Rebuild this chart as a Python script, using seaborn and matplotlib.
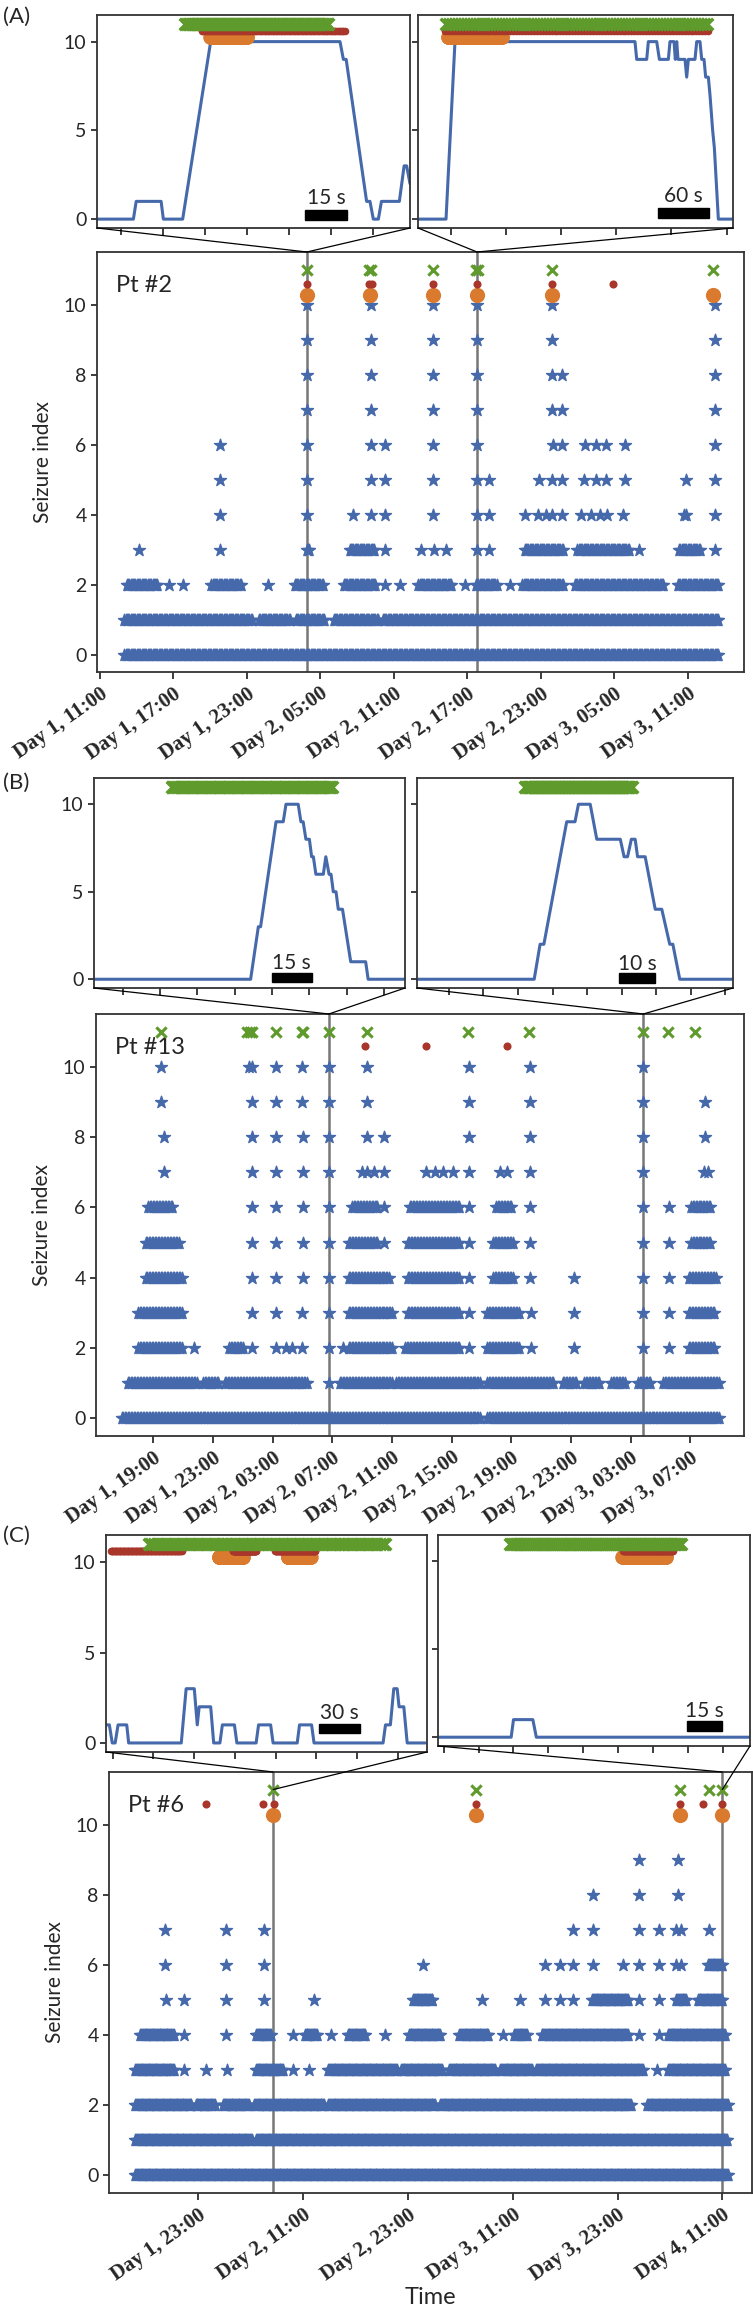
import numpy as np
import pandas as pd
import matplotlib.pyplot as plt
import seaborn as sns
from matplotlib.patches import Rectangle, ConnectionPatch

sns.set_theme(style="ticks")
plt.rcParams["font.family"] = ["Lato", "DejaVu Sans"]
plt.rcParams["axes.edgecolor"] = "#333333"
plt.rcParams["axes.linewidth"] = 1.3
plt.rcParams["xtick.major.size"] = 5
plt.rcParams["ytick.major.size"] = 4
plt.rcParams["xtick.labelsize"] = 14
plt.rcParams["ytick.labelsize"] = 14

BLUE = "#4569aa"
GREEN = "#5e9a2c"
RED = "#a8362b"
ORANGE = "#d97a2e"
VLINE = "#777777"

W, H = 753, 2308

# ------------------ PANEL A (times in hours from Day 1, 00:00) ------------------
A_ticks = [11, 17, 23, 29, 35, 41, 47, 53, 59]
A_ticklabels = ["Day 1, 11:00", "Day 1, 17:00", "Day 1, 23:00", "Day 2, 05:00", "Day 2, 11:00",
                "Day 2, 17:00", "Day 2, 23:00", "Day 3, 05:00", "Day 3, 11:00"]
A_bands = [
    (0, 13.0, 61.5),
    (1, 13.0, 23.4), (1, 24.0, 26.5), (1, 27.0, 29.3), (1, 30.1, 33.7), (1, 34.1, 61.5),
    (2, 13.2, 15.7), (2, 20.1, 22.5), (2, 26.9, 29.2), (2, 30.9, 33.5), (2, 37.0, 39.7),
    (2, 41.7, 43.4), (2, 45.5, 48.8), (2, 49.8, 57.0), (2, 58.2, 61.5),
    (3, 27.9, 28.1), (3, 31.4, 33.4), (3, 45.7, 48.8), (3, 50.0, 54.2), (3, 58.3, 60.0),
]
A_dots = [
    (2, [16.6, 17.8, 24.7, 34.3, 35.5, 40.8, 44.5]),
    (3, [14.2, 20.8, 34.3, 37.2, 38.3, 39.3, 41.8, 42.8, 55.0, 61.2]),
    (4, [20.8, 27.9, 31.7, 33.15, 34.3, 38.2, 41.8, 42.8, 45.7, 46.8, 47.4, 47.9, 48.75,
         50.3, 51.1, 51.8, 52.4, 53.7, 58.7, 58.9, 61.2]),
    (5, [20.8, 27.9, 33.15, 34.3, 38.2, 41.8, 42.8, 46.85, 47.9, 48.75, 50.5, 51.5, 52.3,
         53.9, 58.9, 61.2]),
    (6, [20.8, 27.9, 33.15, 34.3, 38.2, 41.8, 48.0, 48.75, 50.6, 51.5, 52.3, 53.9, 61.2]),
    (7, [27.9, 33.15, 38.2, 41.8, 47.9, 48.75, 61.2]),
    (8, [27.9, 33.15, 38.2, 41.8, 47.9, 48.75, 61.2]),
    (9, [27.9, 33.15, 38.2, 41.8, 47.9, 61.2]),
    (10, [27.9, 33.15, 38.2, 41.8, 47.9, 61.2]),
]
A_green = [27.9, 32.95, 33.1, 38.2, 41.75, 41.85, 47.9, 61.1]
A_red = [27.9, 33.0, 33.2, 38.2, 41.8, 47.9, 52.9]
A_orange = [27.9, 33.05, 38.2, 41.8, 47.9, 61.1]
A_vlines = [27.9, 41.8]

# inset A1 / A2 (seconds)
A1_t = [-8.6, 4.4, 5.4, 14.3, 15.1, 22.0, 32.0, 78.2, 79.4, 80.4, 87.7, 88.9, 90.1, 91.9,
        93.0, 99.4, 101.1, 102.0, 103.2]
A1_y = [0, 0, 1, 1, 0, 0, 10, 10, 9, 9, 1, 1, 0, 0, 1, 1, 3, 3, 2]
A1_green = [(23.0, 74.0)]
A1_red = [(28.8, 80.0)]
A1_orange = [(31.8, 45.0)]

A2_t = [0.4, 32.5, 42.9, 251.7, 253.7, 265.3, 267.2, 276.9, 280.0, 290.4, 292.3, 297.0,
        298.5, 300.1, 301.6, 309.7, 311.7, 313.6, 321.3, 323.3, 327.1, 329.1, 331.8, 333.7,
        336.8, 338.7, 341.8, 343.8, 348.4, 365.8]
A2_y = [0, 0, 10, 10, 9, 9, 10, 10, 9, 9, 10, 10, 9, 10, 9, 9, 8, 9, 9, 10, 10, 9, 9, 8,
        8, 7, 5, 4, 0, 0]
A2_green = [(33.0, 335.0)]
A2_red = [(31.5, 336.7)]
A2_orange = [(34.5, 97.8)]

# ------------------ PANEL B ------------------
B_ticks = [19, 23, 27, 31, 35, 39, 43, 47, 51, 55]
B_ticklabels = ["Day 1, 19:00", "Day 1, 23:00", "Day 2, 03:00", "Day 2, 07:00", "Day 2, 11:00",
                "Day 2, 15:00", "Day 2, 19:00", "Day 2, 23:00", "Day 3, 03:00", "Day 3, 07:00"]
B_bands = [
    (0, 16.9, 40.9), (0, 41.4, 56.9),
    (1, 17.3, 21.9), (1, 22.35, 23.4), (1, 23.8, 29.3), (1, 31.5, 35.0), (1, 35.3, 40.9),
    (1, 41.4, 45.8), (1, 46.45, 47.4), (1, 47.9, 48.9), (1, 49.7, 50.6), (1, 51.5, 52.3),
    (1, 53.2, 56.9),
    (2, 18.0, 20.95), (2, 24.1, 25.0), (2, 32.1, 35.0), (2, 35.9, 39.5), (2, 41.4, 43.5),
    (2, 54.9, 56.56),
    (3, 18.0, 20.95), (3, 32.1, 35.0), (3, 36.07, 39.5), (3, 41.4, 43.5), (3, 54.9, 56.56),
    (4, 18.5, 20.95), (4, 32.1, 34.77), (4, 36.07, 39.5), (4, 41.8, 43.07), (4, 54.9, 56.7),
    (5, 18.5, 20.7), (5, 32.1, 34.0), (5, 36.07, 39.5), (5, 41.8, 43.07), (5, 55.05, 56.4),
    (6, 18.67, 20.3), (6, 32.33, 34.0), (6, 36.2, 39.5), (6, 42.0, 43.0), (6, 55.05, 56.4),
]
B_dots = [
    (1, [30.77]),
    (2, [21.76, 25.6, 27.2, 27.9, 28.27, 28.98, 30.77, 31.7, 40.14, 44.3, 47.2, 51.85, 53.55]),
    (3, [25.6, 27.2, 28.98, 30.77, 40.14, 44.3, 47.2, 51.85, 53.55]),
    (4, [25.6, 27.2, 29.05, 30.77, 40.14, 44.27, 47.2, 51.85, 53.55]),
    (5, [25.6, 27.2, 29.05, 30.77, 34.45, 40.14, 44.27, 51.85, 53.55]),
    (6, [25.6, 27.2, 29.05, 30.77, 34.45, 40.14, 44.27, 51.85, 53.55]),
    (7, [19.7, 25.6, 27.2, 29.05, 30.77, 33.0, 33.3, 33.8, 34.45, 37.3, 37.9, 38.4, 39.1,
         40.14, 42.25, 42.7, 44.27, 51.85, 55.9, 56.2]),
    (8, [19.7, 25.6, 27.2, 29.05, 30.77, 33.3, 34.45, 40.14, 44.27, 51.85, 56.0]),
    (9, [19.55, 25.6, 27.2, 28.98, 30.77, 33.3, 40.14, 44.27, 51.85, 56.0]),
    (10, [19.55, 25.4, 25.6, 27.2, 28.98, 30.77, 33.3, 40.14, 44.27, 51.85]),
]
B_green = [19.55, 25.3, 25.5, 25.65, 27.2, 28.95, 29.05, 30.77, 33.3, 40.1, 44.2, 51.85, 53.5, 55.3]
B_red = [33.2, 37.3, 42.7]
B_orange = []
B_vlines = [30.77, 51.85]

B1_t = [-11.4, 51.4, 54.5, 55.4, 61.6, 64.5, 65.6, 70.5, 71.6, 72.5, 73.6, 75.0, 75.9, 76.6,
        77.6, 80.6, 81.6, 82.9, 83.7, 84.6, 85.7, 86.6, 88.3, 91.6, 97.6, 98.6, 113.1]
B1_y = [0, 0, 3, 3, 9, 9, 10, 10, 9, 9, 8, 8, 7, 7, 6, 6, 7, 6, 6, 5, 5, 4, 4, 1, 1, 0, 0]
B1_green = [(19.7, 84.2)]

B2_t = [-9.2, 24.7, 26.4, 27.5, 34.1, 36.5, 37.5, 40.9, 42.8, 49.6, 50.7, 51.7, 52.8, 53.9,
        54.6, 56.8, 59.7, 61.6, 63.9, 64.8, 66.8, 82.2]
B2_y = [0, 0, 2, 2, 9, 9, 10, 10, 8, 8, 7, 7, 8, 8, 7, 7, 4, 4, 2, 2, 0, 0]
B2_green = [(22.1, 52.9)]

# ------------------ PANEL C ------------------
C_ticks = [23, 35, 47, 59, 71, 83]
C_ticklabels = ["Day 1, 23:00", "Day 2, 11:00", "Day 2, 23:00", "Day 3, 11:00", "Day 3, 23:00",
                "Day 4, 11:00"]
C_bands = [
    (0, 15.8, 83.56),
    (1, 15.8, 29.1), (1, 29.64, 83.56),
    (2, 15.8, 22.2), (2, 22.7, 24.9), (2, 25.8, 28.8), (2, 29.4, 37.4), (2, 37.9, 50.1),
    (2, 50.7, 72.5), (2, 74.4, 83.56),
    (3, 15.8, 20.2), (3, 29.6, 32.7), (3, 37.9, 45.7), (3, 46.2, 50.9), (3, 51.76, 57.0),
    (3, 57.6, 61.2), (3, 61.7, 73.9), (3, 76.8, 83.3),
    (4, 16.36, 20.2), (4, 29.6, 31.3), (4, 35.2, 36.6), (4, 40.1, 42.1), (4, 47.1, 50.7),
    (4, 52.9, 56.2), (4, 59.2, 60.6), (4, 62.3, 72.2), (4, 76.8, 83.3),
    (5, 47.6, 49.8), (5, 68.1, 72.2), (5, 77.75, 78.85), (5, 80.2, 83.0),
    (6, 81.4, 83.0),
]
C_dots = [
    (3, [21.34, 23.83, 26.3, 33.8, 35.7, 75.5]),
    (4, [21.34, 26.2, 33.8, 38.2, 44.4, 57.85, 73.5, 75.7]),
    (5, [19.3, 21.34, 26.15, 30.47, 36.3, 55.5, 59.8, 62.7, 64.37, 65.86, 73.5, 75.7]),
    (6, [19.13, 26.15, 30.47, 48.7, 62.7, 64.37, 65.86, 68.24, 71.67, 73.5, 75.7, 77.75, 78.3]),
    (7, [19.13, 26.15, 30.47, 65.86, 68.24, 73.5, 75.7, 77.75, 78.3, 81.5]),
    (8, [68.24, 73.5, 77.9]),
    (9, [73.5, 77.9]),
]
C_green = [31.57, 54.8, 78.1, 81.5, 83.0]
C_red = [23.9, 30.4, 31.7, 54.8, 78.1, 80.75, 83.0]
C_orange = [31.57, 54.8, 78.1, 83.0]
C_vlines = [31.57, 83.0]

C1_t = [-4.66, -2.52, -0.39, 1.75, 3.89, 10.3, 11.7, 50.5, 54.1, 60.1, 62.3, 63.7, 72.2, 74.4,
        79.0, 80.8, 89.7, 91.5, 105.7, 107.5, 116.4, 118.2, 136.0, 137.7, 146.6, 148.4, 199.3,
        201.1, 204.7, 207.2, 209.7, 211.1, 214.6, 217.1, 230.3]
C1_y = [1, 1, 0, 0, 1, 1, 0, 0, 3, 3, 1, 2, 2, 0, 0, 1, 1, 0, 0, 1, 1, 0, 0, 1, 1, 0, 0,
        1, 1, 3, 3, 2, 2, 0, 0]
C1_green = [(26.5, 201.0)]
C1_red = [(-1.4, 50.8), (88.7, 105.6), (119.7, 149.4)]
C1_orange = [(78.1, 96.0), (129.0, 145.8)]

C2_t = [-2.4, 29.0, 30.0, 38.3, 39.8, 131.5]
C2_y = [0, 0, 1, 1, 0, 0]
C2_green = [(28.4, 102.0)]
C2_red = [(77.1, 98.4)]
C2_orange = [(76.6, 95.6)]


def box(x0, y0, x1, y1):
    return [x0 / W, 1 - y1 / H, (x1 - x0) / W, (y1 - y0) / H]


def stars_frame(bands, dots, step=0.1):
    times, levels = [], []
    for level, start, end in bands:
        pts = np.arange(start, end + step / 2, step)
        times += list(pts)
        levels += [level] * len(pts)
    for level, pts in dots:
        times += list(pts)
        levels += [level] * len(pts)
    return pd.DataFrame({"time": times, "index": levels})


def main_panel(ax, bands, dots, green, red, orange, vlines, xlim, ticks, labels, name):
    for v in vlines:
        ax.axvline(v, color=VLINE, lw=1.8, zorder=1)
    df = stars_frame(bands, dots)
    sns.scatterplot(data=df, x="time", y="index", ax=ax, marker="*", s=82, color=BLUE,
                    edgecolor=BLUE, linewidth=1.0, legend=False, zorder=2)
    if orange:
        sns.scatterplot(x=orange, y=[10.28] * len(orange), ax=ax, s=120, color=ORANGE,
                        linewidth=0, zorder=3)
    sns.scatterplot(x=red, y=[10.6] * len(red), ax=ax, s=34, color=RED, linewidth=0, zorder=4)
    sns.scatterplot(x=green, y=[11.0] * len(green), ax=ax, marker="x", s=55, color=GREEN,
                    linewidth=2.2, zorder=4)
    ax.set_xlim(*xlim)
    ax.set_ylim(-0.5, 11.5)
    ax.set_xticks(ticks)
    ax.set_xticklabels(labels, rotation=35, ha="right", rotation_mode="anchor",
                       fontfamily="Liberation Serif", fontweight="bold", fontsize=15)
    ax.set_yticks(range(0, 11, 2))
    ax.set_ylabel("Seizure index", fontsize=15, labelpad=8)
    ax.set_xlabel("")
    ax.text(0.03, 0.92, name, transform=ax.transAxes, fontsize=17, va="center")


def band(ax, spans, y, marker, s, color, lw):
    for a, b in spans:
        xs = np.linspace(a, b, 90)
        sns.scatterplot(x=xs, y=np.full(len(xs), y), ax=ax, marker=marker, s=s, color=color,
                        linewidth=lw, zorder=4)


def inset_panel(ax, t, y, xlim, xticks, green, red, orange, bar, bar_y, bar_label, label_y,
                ylabels):
    sns.lineplot(x=t, y=y, ax=ax, sort=False, estimator=None, color=BLUE, lw=2.2)
    band(ax, orange, 10.27, "o", 110, ORANGE, 0)
    band(ax, red, 10.6, "o", 30, RED, 0)
    band(ax, green, 11.0, "x", 70, GREEN, 2.5)
    ax.add_patch(Rectangle((bar[0], bar_y[0]), bar[1] - bar[0], bar_y[1] - bar_y[0],
                           color="black", zorder=5))
    ax.text((bar[0] + bar[1]) / 2, label_y, bar_label, ha="center", va="center", fontsize=15)
    ax.set_xlim(*xlim)
    ax.set_ylim(-0.5, 11.5)
    ax.set_xticks(xticks)
    ax.set_xticklabels([])
    ax.set_yticks([0, 5, 10])
    if not ylabels:
        ax.set_yticklabels([])
    ax.set_xlabel("")
    ax.set_ylabel("")


def connect(fig, inset, corner, main, point):
    con = ConnectionPatch(xyA=corner, coordsA=inset.transAxes, xyB=point,
                          coordsB=main.transData, color="black", lw=0.9)
    fig.add_artist(con)


fig = plt.figure(figsize=(W / 100, H / 100), dpi=100)

# ------------------ A ------------------
axA1 = fig.add_axes(box(97, 15, 410, 228))
axA2 = fig.add_axes(box(418, 15, 733, 228))
axA = fig.add_axes(box(97, 252, 744, 672))
inset_panel(axA1, A1_t, A1_y, (-8.6, 103.2), np.arange(0, 91, 15), A1_green, A1_red, A1_orange,
            (65.7, 80.7), (-0.06, 0.49), "15 s", 1.2, True)
inset_panel(axA2, A2_t, A2_y, (0, 365.4), [38, 102, 166, 230, 294, 358], A2_green, A2_red,
            A2_orange, (278, 338), (0.06, 0.6), "60 s", 1.31, False)
main_panel(axA, A_bands, A_dots, A_green, A_red, A_orange, A_vlines, (10.76, 63.6), A_ticks,
           A_ticklabels, "Pt #2")
connect(fig, axA1, (0, 0), axA, (A_vlines[0], 11.5))
connect(fig, axA1, (1, 0), axA, (A_vlines[0], 11.5))
connect(fig, axA2, (0, 0), axA, (A_vlines[1], 11.5))
connect(fig, axA2, (1, 0), axA, (A_vlines[1], 11.5))

# ------------------ B ------------------
axB1 = fig.add_axes(box(94, 778, 405, 988))
axB2 = fig.add_axes(box(417, 778, 733, 988))
axB = fig.add_axes(box(96, 1014, 744, 1436))
inset_panel(axB1, B1_t, B1_y, (-11.5, 113.4), np.arange(0, 106, 15), B1_green, [], [],
            (59.8, 75.9), (-0.15, 0.38), "15 s", 0.93, True)
inset_panel(axB2, B2_t, B2_y, (-9.2, 82.2), np.arange(0, 81, 10), B2_green, [], [],
            (49.1, 59.7), (-0.19, 0.34), "10 s", 0.89, False)
main_panel(axB, B_bands, B_dots, B_green, B_red, B_orange, B_vlines, (15.16, 58.6), B_ticks,
           B_ticklabels, "Pt #13")
connect(fig, axB1, (0, 0), axB, (B_vlines[0], 11.5))
connect(fig, axB1, (1, 0), axB, (B_vlines[0], 11.5))
connect(fig, axB2, (0, 0), axB, (B_vlines[1], 11.5))
connect(fig, axB2, (1, 0), axB, (B_vlines[1], 11.5))

# ------------------ C ------------------
axC1 = fig.add_axes(box(106, 1535, 427, 1752))
axC2 = fig.add_axes(box(438, 1535, 750, 1746))
axC = fig.add_axes(box(109, 1772, 752, 2193))
inset_panel(axC1, C1_t, C1_y, (-5.0, 231.7), np.arange(0, 211, 30), C1_green, C1_red,
            C1_orange, (152, 182), (0.54, 1.05), "30 s", 1.65, True)
inset_panel(axC2, C2_t, C2_y, (-2.4, 131.5), np.arange(0, 121, 15), C2_green, C2_red,
            C2_orange, (104.5, 119.5), (0.38, 0.9), "15 s", 1.5, False)
main_panel(axC, C_bands, C_dots, C_green, C_red, C_orange, C_vlines, (12.77, 86.4), C_ticks,
           C_ticklabels, "Pt #6")
axC.set_xlabel("Time", fontsize=17, labelpad=2)
connect(fig, axC1, (0, 0), axC, (C_vlines[0], 11.5))
connect(fig, axC1, (1, 0), axC, (C_vlines[0], 11.0))
connect(fig, axC2, (0, 0), axC, (C_vlines[1], 11.5))
connect(fig, axC2, (1, 0), axC, (C_vlines[1], 11.0))

# panel letters
fig.text(0.004, 1 - 17 / H, "(A)", fontsize=16, va="center")
fig.text(0.004, 1 - 783 / H, "(B)", fontsize=16, va="center")
fig.text(0.004, 1 - 1536 / H, "(C)", fontsize=16, va="center")

fig.savefig("out.png", dpi=100)
